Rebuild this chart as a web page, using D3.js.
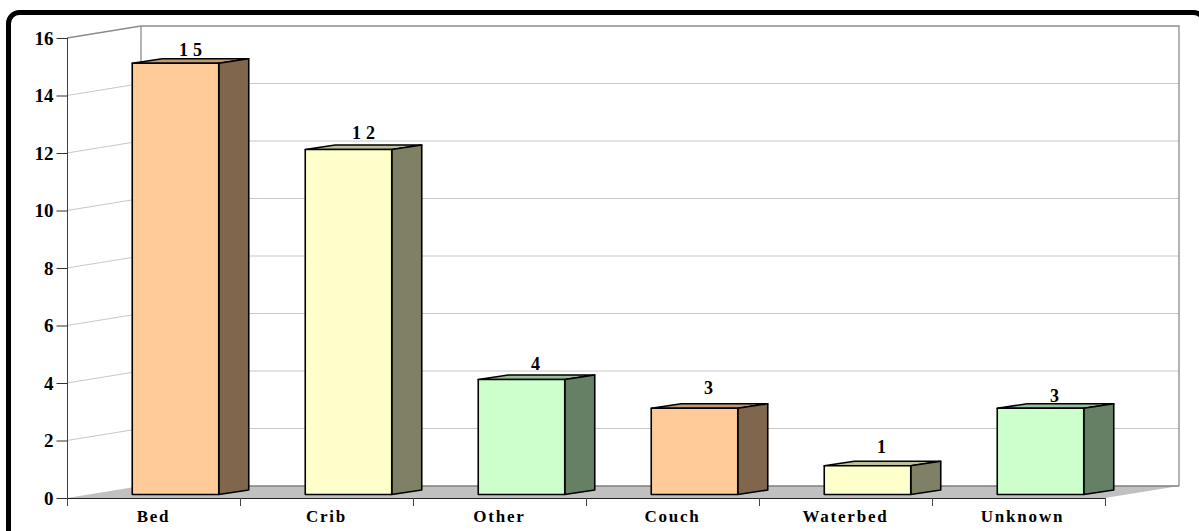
<!DOCTYPE html>
<html><head><meta charset="utf-8">
<script src="https://cdnjs.cloudflare.com/ajax/libs/d3/7.8.5/d3.min.js"></script>
<style>html,body{margin:0;padding:0;background:#fff;overflow:hidden}svg{display:block}
text{font-family:"Liberation Serif",serif;font-weight:bold;fill:#000}</style></head>
<body><svg width="1199" height="531"></svg>
<script>
const categories=["Bed","Crib","Other","Couch","Waterbed","Unknown"];
const counts=[15,12,4,3,1,3];
const yTicks=[0,2,4,6,8,10,12,14,16];
const faceColors=["#ffcc99","#ffffcc","#ccffcc","#ffcc99","#ffffcc","#ccffcc"];
const topColors=["#bf9973","#bfbf99","#99bf99","#bf9973","#bfbf99","#99bf99"];
const sideColors=["#80664d","#808066","#668066","#80664d","#808066","#668066"];

const svg=d3.select("svg");
const x=d3.scaleBand().domain(categories).range([67,1105]).paddingInner(0).paddingOuter(0);
const y=d3.scaleLinear().domain([0,16]).range([498,38]);
const wall={dx:74,dy:-12}, barOff={dx:22,dy:-3.5}, depth={dx:30,dy:-4.5};
const barW=x.bandwidth()*0.5;

svg.append("rect").attr("x",8.5).attr("y",12.5).attr("width",1196).attr("height",540)
  .attr("rx",11).attr("fill","#fff").attr("stroke","#000").attr("stroke-width",5);

// walls
const grid=svg.append("g");
yTicks.slice(1,-1).forEach(t=>{
  grid.append("path").attr("fill","none").attr("stroke","#c8c8c8").attr("stroke-width",1)
   .attr("d",`M67,${y(t)}L${67+wall.dx},${y(t)+wall.dy}L${1105+wall.dx},${y(t)+wall.dy}`);
});
grid.append("path").attr("fill","none").attr("stroke","#8c8c8c").attr("stroke-width",1.3)
  .attr("d",`M67,${y(16)}L141,${y(16)+wall.dy}L1179,${y(16)+wall.dy}L1179,${y(0)+wall.dy}M141,${y(16)+wall.dy}L141,${y(0)+wall.dy}`);
// floor
svg.append("path").attr("fill","#c0c0c0")
  .attr("d",`M67,${y(0)}L141,${y(0)+wall.dy}L1179,${y(0)+wall.dy}L1105,${y(0)}Z`);
svg.append("path").attr("fill","none").attr("stroke","#808080").attr("stroke-width",1.5)
  .attr("d",`M141,${y(0)+wall.dy}L1179,${y(0)+wall.dy}`);

// axes
const yAxis=d3.axisLeft(y).tickValues(yTicks).tickSize(11).tickPadding(3);
const gy=svg.append("g").attr("transform","translate(67.5,0)").call(yAxis);
gy.selectAll("path").attr("d","M0,38V498").attr("stroke","#404040");
gy.selectAll("line").attr("stroke","#303030");
gy.selectAll("text").attr("font-size",19).attr("font-family","Liberation Serif");

const xb=svg.append("g");
xb.append("line").attr("x1",67).attr("x2",1105).attr("y1",498.5).attr("y2",498.5).attr("stroke","#222");
[...categories.map(c=>x(c)),1105].forEach(v=>xb.append("line").attr("x1",v+.5).attr("x2",v+.5)
  .attr("y1",498).attr("y2",506).attr("stroke","#444"));
xb.selectAll("text.cat").data(categories).join("text").attr("class","cat")
  .attr("x",c=>x(c)+x.bandwidth()/2+(c==="Unknown"?4:0)).attr("y",521.5).attr("text-anchor","middle")
  .attr("font-size",17).attr("letter-spacing",1.8).text(c=>c);

// bars
const base=y(0)+barOff.dy;
const unit=y(0)-y(1);
const inset=(x.bandwidth()-barW)/2+barOff.dx;
const labelLift=[0,4,3,7,6,-1];
const bars=svg.append("g").attr("stroke","#000").attr("stroke-width",1.6).attr("stroke-linejoin","round");
categories.forEach((c,i)=>{
  const l=x(c)+inset, r=l+barW, t=base-counts[i]*unit, b=base;
  bars.append("path").attr("fill",topColors[i])
    .attr("d",`M${l},${t}L${l+depth.dx},${t+depth.dy}L${r+depth.dx},${t+depth.dy}L${r},${t}Z`);
  bars.append("path").attr("fill",sideColors[i])
    .attr("d",`M${r},${t}L${r+depth.dx},${t+depth.dy}L${r+depth.dx},${b+depth.dy}L${r},${b}Z`);
  bars.append("path").attr("fill",faceColors[i])
    .attr("d",`M${l},${t}L${r},${t}L${r},${b}L${l},${b}Z`);
  svg.append("text").attr("x",l+barW/2+depth.dx/2+(counts[i]>9?2.5:-1)).attr("y",t+depth.dy-2.5-labelLift[i])
    .attr("text-anchor","middle").attr("font-size",18).attr("letter-spacing",counts[i]>9?5:0)
    .text(counts[i]);
});
</script></body></html>
